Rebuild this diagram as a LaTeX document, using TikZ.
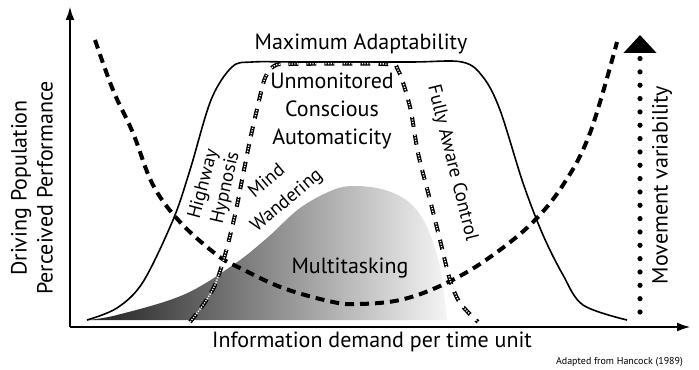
\documentclass[tikz,border=0pt]{standalone}
\usepackage{fontspec}
\setmainfont{PT Sans}
\usepackage{xcolor}
\usetikzlibrary{arrows.meta, positioning}
\def\prestazione{plot[smooth, tension=0.55] coordinates {(87,320) (117,308) (143,282) (173,220) (190,170) (211,100) (232,67) (252,62) (300,62) (410,62) (462,62) (483,77) (500,110) (523,183) (543,235) (563,275) (583,305) (627,320)}}
\def\variabilita{plot[smooth, tension=0.6] coordinates {(95,40) (113,90) (133,133) (153,185) (180,222) (217,255) (240,268) (283,288) (333,302) (360,304) (400,300) (440,286) (483,262) (530,225) (563,185) (590,133) (617,42)}}
\def\multitasking{plot[smooth, tension=0.6] coordinates {(87,320) (117,315) (183,295) (233,265) (267,238) (300,208) (333,190) (355,186) (385,190) (410,203) (427,227) (440,267) (447,320)} -- cycle}
\def\confine{plot[smooth, tension=0.5] coordinates {(190,322) (203,305) (215,285) (225,255) (235,215) (242,180) (250,140) (258,105) (265,78) (274,66) (290,64) (385,64) (398,70) (410,107) (418,153) (430,200) (440,240) (450,280) (460,303) (478,322)}}
\tikzset{
    asse/.style = {line width = 1.3pt, -{Latex[length=7pt, width=4.5pt]}},
    tratteggio/.style = {line width = 2pt, dash pattern = on 4.5pt off 3pt},
    bordo/.style = {line width = 2pt, dash pattern = on 5pt off 4pt},
    puntini/.style = {white, line width = 0.7pt, dash pattern = on 0.6pt off 0.7pt},
    etichetta/.style = {font = \fontsize{9.5}{11}\selectfont, inner sep = 0pt}
}

\begin{document}
\begin{tikzpicture}[x = 0.5pt, y = -0.5pt, font = \fontsize{11}{13}\selectfont]
    \useasboundingbox (0,0) rectangle (699,369);
    % Multitasking
    \shade[left color = black!88, right color = white!96!black] \multitasking;
    \node (multi) at (350,268){Multitasking};
    % Assi
    \coordinate (origine) at (70,327);
    \draw[asse] (origine) -- (70,6);
    \draw[asse] (origine) -- (691,327);
    \node (xlab) at (372,342){Information demand per time unit};
    \node[rotate = 90, align = center, inner sep = 0pt] (ylab) at (32,188){Driving Population\\Perceived Performance};
    % Prestazione percepita
    \draw[line width = 0.8pt] \prestazione;
    \node (maxad) at (361,44){Maximum Adaptability};
    % Variabilita del movimento
    \draw[tratteggio] \variabilita;
    \draw[line width = 2.6pt, line cap = round, dash pattern = on 0pt off 6.67pt, -{Triangle[length=9pt, width=16pt]}] (640,312) -- (640,35);
    \node[rotate = 90] (movvar) at (662,185){Movement variability};
    % Confine automaticita
    \draw[bordo] \confine;
    \draw[puntini] \confine;
    \node[align = center] (auto) at (332,111){Unmonitored\\[1pt]Conscious\\[1pt]Automaticity};
    % Etichette oblique
    \node[etichetta, rotate = 75] (highway) at (204,184){Highway};
    \node[etichetta, rotate = 77] (hypnosis) at (226,188){Hypnosis};
    \node[etichetta, rotate = 40] (mind) at (266,180){Mind};
    \node[etichetta, rotate = 40] (wander) at (287,201){Wandering};
    \node[etichetta, rotate = -76] (aware) at (452,163){Fully Aware Control};
    % Fonte
    \node[anchor = east, font = \fontsize{5}{6}\selectfont] (fonte) at (690,362){Adapted from Hancock (1989)};
\end{tikzpicture}
\end{document}
